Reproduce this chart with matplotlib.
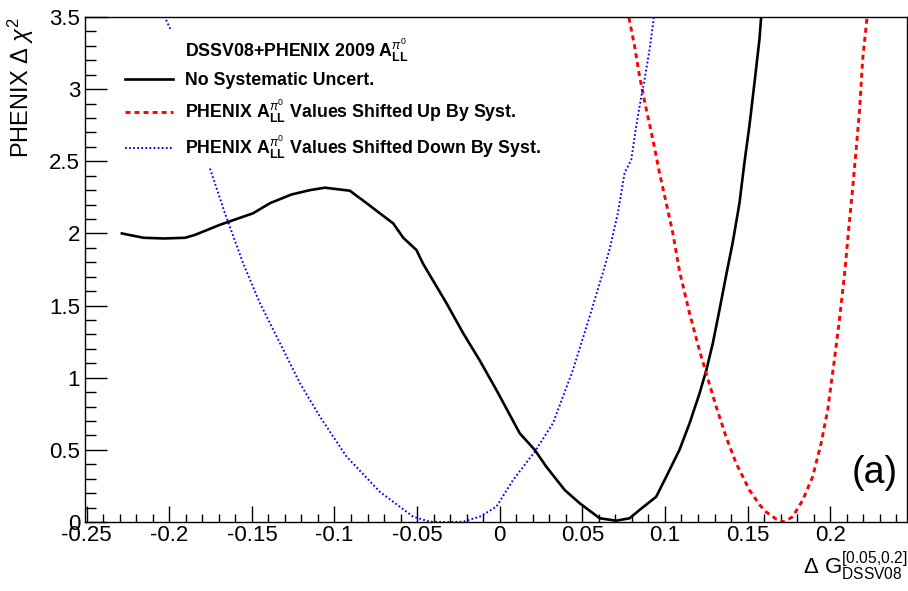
import numpy as np
import matplotlib
matplotlib.use("Agg")
import matplotlib.pyplot as plt
from matplotlib.ticker import MultipleLocator, FuncFormatter
from matplotlib.lines import Line2D

plt.rcParams['font.family'] = ['Liberation Sans', 'DejaVu Sans']
plt.rcParams['mathtext.fontset'] = 'custom'
plt.rcParams['mathtext.rm'] = 'Liberation Sans'
plt.rcParams['mathtext.it'] = 'Liberation Sans:italic'
plt.rcParams['mathtext.bf'] = 'Liberation Sans:bold'

# no systematic uncertainty
black_x = [-0.2287, -0.2157, -0.2030, -0.1904, -0.1844, -0.1693, -0.1492, -0.139,
           -0.126, -0.1149, -0.1058, -0.0907, -0.0806, -0.0726, -0.0645, -0.0584,
           -0.0504, -0.0464, -0.0322, -0.0222, -0.0121, -0.002, 0.0121, 0.0212,
           0.0282, 0.0393, 0.0484, 0.0605, 0.0705, 0.0786, 0.0846, 0.0947, 0.1008,
           0.1088, 0.1149, 0.1209, 0.125, 0.129, 0.133, 0.1374, 0.141, 0.1451,
           0.1481, 0.1511, 0.1542, 0.1572, 0.1582]
black_y = [2.00, 1.97, 1.965, 1.97, 1.99, 2.06, 2.14, 2.21, 2.27, 2.30, 2.317,
           2.296, 2.21, 2.14, 2.07, 1.97, 1.885, 1.79, 1.516, 1.31, 1.12, 0.915,
           0.615, 0.50, 0.383, 0.222, 0.13, 0.026, 0.009, 0.026, 0.083, 0.175,
           0.314, 0.50, 0.684, 0.89, 1.05, 1.24, 1.47, 1.73, 1.936, 2.21, 2.49,
           2.744, 3.045, 3.345, 3.495]

# shifted up by syst.
red_x = [0.0782, 0.0816, 0.0846, 0.0887, 0.0927, 0.0967, 0.1008, 0.1048, 0.1088,
         0.1149, 0.1209, 0.125, 0.131, 0.137, 0.1431, 0.1511, 0.1572, 0.1612,
         0.1673, 0.1723, 0.1773, 0.1834, 0.1894, 0.1945, 0.1985, 0.2025, 0.2056,
         0.2089, 0.2112, 0.2136, 0.2157, 0.2177, 0.2197, 0.2223]
red_y = [3.495, 3.30, 3.09, 2.86, 2.65, 2.42, 2.21, 2.0, 1.74, 1.446, 1.19, 1.03,
         0.80, 0.59, 0.407, 0.222, 0.12, 0.07, 0.02, 0.0, 0.037, 0.152, 0.314,
         0.545, 0.776, 1.12, 1.40, 1.74, 2.03, 2.31, 2.58, 2.84, 3.21, 3.495]

# shifted down by syst.
blue_x = [-0.2019, -0.1991, -0.190, -0.1764, -0.1663, -0.1552, -0.1451, -0.133,
          -0.1209, -0.1088, -0.0927, -0.0726, -0.0524, -0.0423, -0.0322, -0.0222,
          -0.0121, -0.002, 0.008, 0.0212, 0.0322, 0.0443, 0.0544, 0.0625, 0.0665,
          0.0715, 0.0756, 0.0796, 0.0826, 0.0857, 0.0877, 0.0907, 0.0933]
blue_y = [3.48, 3.41, 3.0, 2.486, 2.14, 1.79, 1.516, 1.24, 0.961, 0.73, 0.453,
          0.21, 0.037, 0.002, 0.0, 0.002, 0.037, 0.106, 0.29, 0.487, 0.684, 1.053,
          1.423, 1.73, 1.89, 2.14, 2.42, 2.51, 2.744, 2.95, 3.07, 3.275, 3.495]

legend_title = r"DSSV08+PHENIX 2009 $\mathbf{A}_{\mathbf{LL}}^{\pi^{0}}$"
labels = ["No Systematic Uncert.",
          r"PHENIX $\mathbf{A}_{\mathbf{LL}}^{\pi^{0}}$ Values Shifted Up By Syst.",
          r"PHENIX $\mathbf{A}_{\mathbf{LL}}^{\pi^{0}}$ Values Shifted Down By Syst."]

fig = plt.figure(figsize=(9.08, 5.91), dpi=100)
ax = fig.add_axes([85 / 908, 69 / 591, 822 / 908, 505 / 591])

ax.plot(black_x, black_y, color='black', lw=1.9, label=labels[0])
ax.plot(red_x, red_y, color='red', lw=2.1, dashes=(1.7, 1.4), label=labels[1])
ax.plot(blue_x, blue_y, color='blue', lw=1.4, dashes=(0.9, 1.2), label=labels[2])

ax.set_xlim(-0.251, 0.2465)
ax.set_ylim(0, 3.5)

fmt = FuncFormatter(lambda v, p: '%g' % round(v, 4))
ax.xaxis.set_major_locator(MultipleLocator(0.05))
ax.xaxis.set_minor_locator(MultipleLocator(0.01))
ax.yaxis.set_major_locator(MultipleLocator(0.5))
ax.yaxis.set_minor_locator(MultipleLocator(0.1))
ax.xaxis.set_major_formatter(fmt)
ax.yaxis.set_major_formatter(fmt)
ax.tick_params(axis='both', which='both', direction='in', top=False, right=False,
               labelsize=16, width=1)
ax.tick_params(axis='x', which='major', length=11.5, pad=2)
ax.tick_params(axis='x', which='minor', length=6)
ax.tick_params(axis='y', which='major', length=15.5, pad=3.5)
ax.tick_params(axis='y', which='minor', length=8)
for s in ax.spines.values():
    s.set_linewidth(1.0)

ax.set_xlabel(r"$\Delta\ \mathrm{G}_{\mathrm{DSSV08}}^{[0.05{,}0.2]}$", fontsize=16,
              loc='right')
ax.xaxis.set_label_coords(1.0, -0.055)
ax.set_ylabel(r"PHENIX $\Delta\ \chi^{2}$", fontsize=17, loc='top')
ax.yaxis.set_label_coords(-0.06, 1.0)

handles, _ = ax.get_legend_handles_labels()
blank = Line2D([], [], color='none')
leg = ax.legend([blank] + handles, [legend_title] + labels,
                loc='upper left', bbox_to_anchor=(0.029, 0.993),
                prop={'weight': 'bold', 'size': 12.8}, frameon=True,
                fancybox=False, framealpha=1, facecolor='white', edgecolor='none',
                handlelength=2.7, handletextpad=0.7, labelspacing=0.48,
                borderpad=0.4)
leg.set_zorder(5)

ax.text(0.961, 0.097, "(a)", transform=ax.transAxes, fontsize=27,
        ha='center', va='center')

fig.savefig("out.png", dpi=100)
